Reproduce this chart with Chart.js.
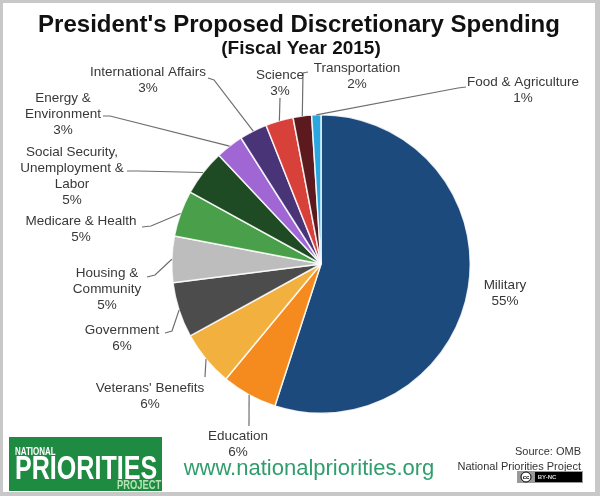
<!DOCTYPE html>
<html>
<head>
<meta charset="utf-8">
<script src="https://cdn.jsdelivr.net/npm/chart.js@4.4.1/dist/chart.umd.min.js"></script>
<style>
  html, body { margin: 0; padding: 0; background: #fff; }
  canvas { display: block; }
</style>
</head>
<body>
<canvas id="pieChart" width="600" height="496"></canvas>
<script>
// data, clockwise from 12 o'clock
const categories = [
  ["Military"],
  ["Education"],
  ["Veterans' Benefits"],
  ["Government"],
  ["Housing &", "Community"],
  ["Medicare & Health"],
  ["Social Security,", "Unemployment &", "Labor"],
  ["Energy &", "Environment"],
  ["International Affairs"],
  ["Science"],
  ["Transportation"],
  ["Food & Agriculture"],
];
const shares = [55, 6, 6, 6, 5, 5, 5, 3, 3, 3, 2, 1];
const sliceColors = [
  "#1d4a7c", "#f58a1f", "#f2b03e", "#4c4c4c", "#bdbdbd", "#4aa04a",
  "#1e4a24", "#a066d3", "#4a3478", "#d8403a", "#5c1a1e", "#2aa7df",
];

// label layout: centre x, y of first line
const labelPos = [
  [505, 285], [238, 436], [150, 388], [122, 330], [107, 273], [81, 221],
  [72, 152], [63, 98], [148, 72], [280, 75], [357, 68], [523, 82],
];
// leader line points, ending at the slice edge
const leaders = [
  null,
  [[249, 426]],
  [[205, 377]],
  [[165, 333], [172, 331]],
  [[147, 277], [155, 275]],
  [[142, 227], [151, 226]],
  [[127, 171], [138, 171]],
  [[103, 116], [110, 116]],
  [[208, 78], [214, 80]],
  [[280, 98]],
  [[308, 72], [303, 73]],
  [[466, 87], [458, 88]],
];

const font = '"Liberation Sans", Arial, sans-serif';

const outsideLabels = {
  id: "outsideLabels",
  beforeDraw(chart) {
    const c = chart.ctx;
    c.save();
    c.fillStyle = "#c8c8c8";
    c.fillRect(0, 0, 600, 496);
    c.fillStyle = "#ffffff";
    c.fillRect(3, 3, 592, 489);
    c.restore();
  },
  afterDatasetsDraw(chart) {
    const c = chart.ctx;
    const arcs = chart.getDatasetMeta(0).data;
    c.save();

    // leader lines
    c.strokeStyle = "#6e6e6e";
    c.lineWidth = 1.2;
    arcs.forEach((arc, i) => {
      if (!leaders[i]) return;
      const p = arc.getProps(["x", "y", "startAngle", "endAngle", "outerRadius"], true);
      const mid = (p.startAngle + p.endAngle) / 2;
      const ex = p.x + Math.cos(mid) * p.outerRadius;
      const ey = p.y + Math.sin(mid) * p.outerRadius;
      c.beginPath();
      leaders[i].forEach((pt, k) => (k ? c.lineTo(pt[0], pt[1]) : c.moveTo(pt[0], pt[1])));
      c.lineTo(ex, ey);
      c.stroke();
    });

    // labels
    c.fillStyle = "#383838";
    c.font = "13.5px " + font;
    c.textAlign = "center";
    c.textBaseline = "middle";
    categories.forEach((lines, i) => {
      const [x, y] = labelPos[i];
      const all = lines.concat([shares[i] + "%"]);
      all.forEach((t, k) => c.fillText(t, x, y + k * 16));
    });

    // titles
    c.fillStyle = "#111";
    c.font = "bold 24px " + font;
    c.fillText("President's Proposed Discretionary Spending", 299, 25);
    c.font = "bold 19px " + font;
    c.fillText("(Fiscal Year 2015)", 301, 49);

    // footer
    c.fillStyle = "#2f9e6c";
    c.font = "22px " + font;
    c.fillText("www.nationalpriorities.org", 309, 469);

    c.fillStyle = "#333";
    c.font = "11px " + font;
    c.textAlign = "right";
    c.fillText("Source: OMB", 581, 452);
    c.fillText("National Priorities Project", 581, 467);

    // licence badge
    c.fillStyle = "#9a9a9a";
    c.fillRect(517, 471, 66, 12);
    c.fillStyle = "#000";
    c.fillRect(535, 472, 47, 10);
    c.beginPath();
    c.arc(526, 477, 5, 0, Math.PI * 2);
    c.fillStyle = "#fff";
    c.fill();
    c.strokeStyle = "#000";
    c.lineWidth = 1;
    c.stroke();
    c.fillStyle = "#000";
    c.font = "bold 6px " + font;
    c.textAlign = "center";
    c.fillText("cc", 526, 477);
    c.fillStyle = "#ddd";
    c.fillText("BY-NC", 547, 477);

    // logo
    c.fillStyle = "#1f8b42";
    c.fillRect(9, 437, 153, 54);
    c.fillStyle = "#fff";
    c.textAlign = "left";
    c.textBaseline = "alphabetic";
    c.save();
    c.translate(15, 455);
    c.scale(0.8, 1);
    c.font = "bold 10px " + font;
    c.fillText("NATIONAL", 0, 0);
    c.restore();
    c.save();
    c.translate(15, 479);
    c.scale(0.76, 1);
    c.font = "bold 33px " + font;
    c.fillText("PRIORITIES", 0, 0);
    c.restore();
    c.save();
    c.translate(117, 489);
    c.scale(0.78, 1);
    c.fillStyle = "#b5e3b5";
    c.font = "bold 12px " + font;
    c.fillText("PROJECT", 0, 0);
    c.restore();

    c.restore();
  },
};

new Chart(document.getElementById("pieChart"), {
  type: "pie",
  data: {
    labels: categories,
    datasets: [
      {
        data: shares,
        backgroundColor: sliceColors,
        borderColor: "rgba(255,255,255,0.85)",
        borderWidth: 1.5,
      },
    ],
  },
  options: {
    responsive: false,
    animation: false,
    layout: {
      padding: { top: 114, bottom: 82, left: 171, right: 129 },
    },
    plugins: {
      legend: { display: false },
      tooltip: { enabled: false },
    },
  },
  plugins: [outsideLabels],
});
</script>
</body>
</html>
